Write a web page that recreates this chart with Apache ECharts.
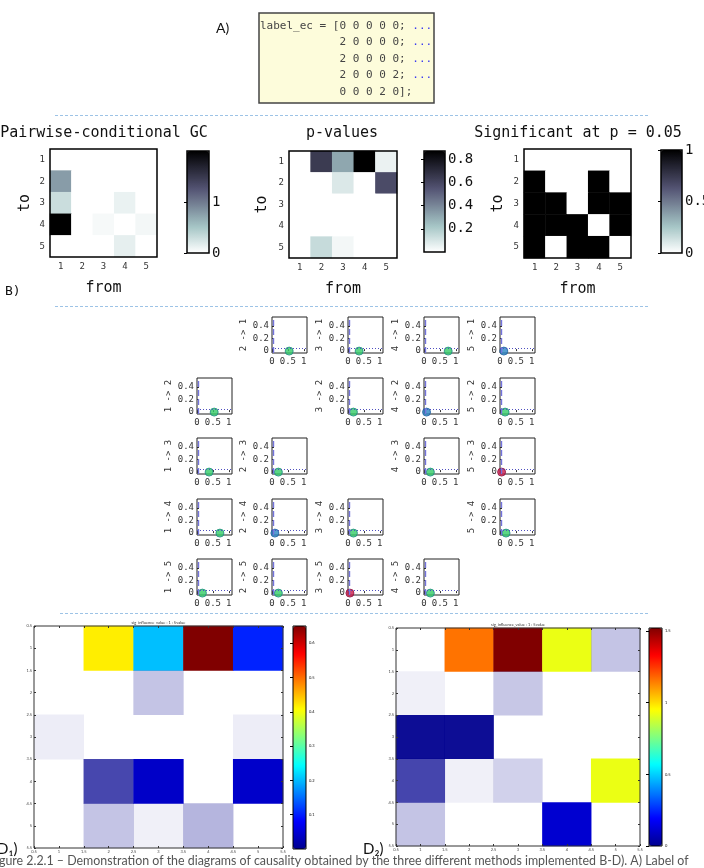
<!DOCTYPE html>
<html>
<head>
<meta charset="utf-8">
<script src="https://cdn.jsdelivr.net/npm/echarts@6/dist/echarts.min.js"></script>
<style>
  html, body { margin: 0; padding: 0; background: #fff; }
  #chart { width: 704px; height: 868px; }
</style>
</head>
<body>
<div id="chart"></div>
<script>
// ---------- data ----------
const nodes = ['1', '2', '3', '4', '5'];

// A) expected connections
const labelRows = [
  [0, 0, 0, 0, 0],
  [2, 0, 0, 0, 0],
  [2, 0, 0, 0, 0],
  [2, 0, 0, 0, 2],
  [0, 0, 0, 2, 0]
];

// B) rows = "to", columns = "from"
const gcValues = [
  [0, 0, 0, 0, 0],
  [0.78, 0, 0, 0, 0],
  [0.3, 0, 0, 0.12, 0],
  [2.0, 0, 0.05, 0, 0.07],
  [0, 0, 0, 0.14, 0]
];
const pValues = [
  [0, 0.64, 0.31, 0.87, 0.05],
  [0, 0, 0.09, 0, 0.58],
  [0, 0, 0, 0, 0],
  [0, 0, 0, 0, 0],
  [0, 0.14, 0.03, 0, 0]
];
const sigValues = [
  [0, 0, 0, 0, 0],
  [1, 0, 0, 1, 0],
  [1, 1, 0, 1, 1],
  [1, 1, 1, 0, 1],
  [1, 0, 1, 1, 0]
];
const gcRange = [0, 2.0], gcTicks = [0, 1];
const pRange = [0, 0.87], pTicks = [0.2, 0.4, 0.6, 0.8];
const sigRange = [0, 1], sigTicks = [0, 0.5, 1];
const alphaLevel = 0.05;

// C) one small plot per directed pair
const scatFrom = [2, 3, 4, 5, 1, 3, 4, 5, 1, 2, 4, 5, 1, 2, 3, 5, 1, 2, 3, 4];
const scatTo   = [1, 1, 1, 1, 2, 2, 2, 2, 3, 3, 3, 3, 4, 4, 4, 4, 5, 5, 5, 5];
const scatX    = [0.54, 0.35, 0.76, 0.12, 0.54, 0.17, 0.08, 0.16, 0.38, 0.2, 0.2, 0.05,
                  0.72, 0.09, 0.17, 0.19, 0.17, 0.2, 0.06, 0.2];
const scatY    = [0, 0, 0, 0, 0, 0, 0, 0, 0, 0, 0, 0, 0, 0, 0, 0, 0, 0, 0, 0];
const scatKind = ['g', 'g', 'g', 'b', 'g', 'g', 'b', 'g', 'g', 'g', 'g', 'r',
                  'g', 'b', 'g', 'g', 'g', 'g', 'r', 'g'];
const scatXTicks = [0, 0.5, 1];
const scatYTicks = [0, 0.2, 0.4];

// D) influence maps (null = empty cell), alpha = cell weight
const d1Values = [
  [null, 0.417, 0.203, 0.65, 0.103],
  [null, null, 0, null, null],
  [0, null, null, null, 0],
  [null, 0, 0.041, null, 0.043],
  [null, 0, 0, 0, null]
];
const d1Alpha = [
  [1, 1, 1, 1, 1],
  [1, 1, 0.23, 1, 1],
  [0.07, 1, 1, 1, 0.07],
  [1, 0.72, 1, 1, 1],
  [1, 0.23, 0.06, 0.29, 1]
];
const d2Values = [
  [null, 1.16, 1.52, 0.92, 0],
  [0, null, 0, null, null],
  [0, 0, null, null, null],
  [0, 0, 0, null, 0.92],
  [0, null, null, 0.11, null]
];
const d2Alpha = [
  [1, 1, 1, 1, 0.23],
  [0.06, 1, 0.22, 1, 1],
  [0.95, 0.95, 1, 1, 1],
  [0.73, 0.06, 0.18, 1, 1],
  [0.23, 1, 1, 1, 1]
];
const d1Range = [0, 0.65], d1Ticks = [0.1, 0.2, 0.3, 0.4, 0.5, 0.6];
const d2Range = [0, 1.52], d2Ticks = [0, 0.5, 1, 1.5];

// ---------- styles ----------
const MONO = '"DejaVu Sans Mono", monospace';
const SANS = 'Lato, "DejaVu Sans", sans-serif';
const boneRev = ['#ffffff', '#d3e3e3', '#a7c7c7', '#8ba1ab', '#707a8f', '#545474', '#38384d', '#1c1c27', '#000000'];
const jet = ['#00008f', '#0000ff', '#0080ff', '#00ffff', '#80ff80', '#ffff00', '#ff8000', '#ff0000', '#800000'];
const kindStyle = {
  g: { color: '#33cc66', borderColor: '#1f8a86', borderWidth: 1 },
  b: { color: '#2a86c4', borderColor: '#1f5fa0', borderWidth: 1 },
  r: { color: '#cc1a4a', borderColor: '#8a1040', borderWidth: 1 }
};

const grids = [], xAxis = [], yAxis = [], series = [], visualMap = [], graphic = [];

function addGrid(box, extra) {
  grids.push(Object.assign({
    left: box[0], top: box[1], width: box[2], height: box[3],
    show: true, borderColor: '#000', borderWidth: 1, backgroundColor: 'transparent',
    containLabel: false, outerBoundsMode: 'none'
  }, extra || {}));
  return grids.length - 1;
}

function addText(x, y, text, font, color, align, extraStyle) {
  graphic.push({
    type: 'text', x: x, y: y, silent: true, z: 20,
    style: Object.assign({
      text: text, font: font, fill: color || '#111',
      align: align || 'left', textAlign: align || 'left',
      verticalAlign: 'middle', textVerticalAlign: 'middle'
    }, extraStyle || {})
  });
}

function addColorbar(box, range, ticks, colors, seriesIndex, fontSize, borderWidth) {
  visualMap.push({
    type: 'continuous', seriesIndex: seriesIndex, dimension: 2,
    min: range[0], max: range[1], inRange: { color: colors },
    show: true, calculable: false, orient: 'vertical', padding: 0,
    left: box[0], top: box[1], itemWidth: box[2], itemHeight: box[3], z: 4
  });
  const g = addGrid(box, { borderWidth: borderWidth, borderColor: '#000', z: 6 });
  xAxis.push({ gridIndex: g, type: 'value', show: false, min: 0, max: 1 });
  yAxis.push({
    gridIndex: g, type: 'value', min: range[0], max: range[1], position: 'right', z: 7,
    axisLine: { show: false }, splitLine: { show: false },
    axisTick: { show: true, inside: true, length: 3, customValues: ticks, lineStyle: { color: '#000' } },
    axisLabel: {
      customValues: ticks, formatter: v => String(v), margin: 3,
      fontFamily: fontSize > 6 ? MONO : SANS, fontSize: fontSize, color: '#111'
    }
  });
}

// ---------- B) matrix panels ----------
const matrixPanels = [
  { title: 'Pairwise-conditional GC', titleX: 104, values: gcValues, range: gcRange, ticks: gcTicks,
    box: [50, 149, 107, 108], bar: [187, 151, 22, 102], toGap: 17 },
  { title: 'p-values', titleX: 342, values: pValues, range: pRange, ticks: pTicks,
    box: [289, 151, 108, 107], bar: [424, 151, 21, 101], toGap: 19 },
  { title: 'Significant at p = 0.05', titleX: 578, values: sigValues, range: sigRange, ticks: sigTicks,
    box: [524, 149, 107, 109], bar: [661, 150, 21, 103], toGap: 18 }
];

matrixPanels.forEach(p => {
  const g = addGrid(p.box, { borderWidth: 1.5, z: 3 });
  const tickStyle = { inside: true, alignWithLabel: true, length: 3, lineStyle: { color: '#000' } };
  const labelStyle = { fontFamily: MONO, fontSize: 9, color: '#333', margin: 5 };
  const nameStyle = { fontFamily: MONO, fontSize: 15, color: '#111' };
  const xi = xAxis.length;
  xAxis.push({
    gridIndex: g, type: 'category', data: nodes, position: 'bottom', z: 3,
    name: 'from', nameLocation: 'middle', nameGap: 24, nameTextStyle: nameStyle,
    axisLine: { show: false }, splitLine: { show: false }, axisTick: tickStyle, axisLabel: labelStyle
  });
  xAxis.push({
    gridIndex: g, type: 'category', data: nodes, position: 'top', z: 3,
    axisLine: { show: false }, splitLine: { show: false }, axisTick: tickStyle, axisLabel: { show: false }
  });
  const yi = yAxis.length;
  yAxis.push({
    gridIndex: g, type: 'category', data: nodes, inverse: true, position: 'left', z: 3,
    name: 'to', nameLocation: 'middle', nameRotate: 90, nameGap: p.toGap, nameTextStyle: nameStyle,
    axisLine: { show: false }, splitLine: { show: false }, axisTick: tickStyle, axisLabel: labelStyle
  });
  yAxis.push({
    gridIndex: g, type: 'category', data: nodes, inverse: true, position: 'right', z: 3,
    axisLine: { show: false }, splitLine: { show: false }, axisTick: tickStyle, axisLabel: { show: false }
  });
  const data = [];
  p.values.forEach((row, r) => row.forEach((v, c) => data.push([c, r, v])));
  const si = series.length;
  series.push({
    type: 'heatmap', xAxisIndex: xi, yAxisIndex: yi, data: data,
    emphasis: { disabled: true }, silent: true
  });
  addColorbar(p.bar, p.range, p.ticks, boneRev, si, 14, 1.5);
  addText(p.titleX, 133, p.title, '15px ' + MONO, '#111', 'center');
});

// ---------- C) pairwise small plots ----------
const colLeft = [197, 272, 348, 424, 500];
const rowTop = [317, 378, 438, 499, 559];

scatTo.forEach((to, i) => {
  const from = scatFrom[i];
  const g = addGrid([colLeft[from - 1], rowTop[to - 1], 35, 36], { borderColor: '#222', borderWidth: 1, z: 3 });
  const small = { fontFamily: MONO, fontSize: 9, color: '#333' };
  const xi = xAxis.length;
  xAxis.push({
    gridIndex: g, type: 'value', min: 0, max: 1.1,
    axisLine: { show: false }, splitLine: { show: false },
    axisTick: { inside: true, length: 2, customValues: scatXTicks, lineStyle: { color: '#333' } },
    axisLabel: Object.assign({ customValues: scatXTicks, formatter: v => String(v), margin: 4 }, small)
  });
  const yi = yAxis.length;
  yAxis.push({
    gridIndex: g, type: 'value', min: -0.03, max: 0.54,
    name: from + ' -> ' + to, nameLocation: 'middle', nameRotate: 90, nameGap: 24, nameTextStyle: small,
    axisLine: { show: false }, splitLine: { show: false },
    axisTick: { inside: true, length: 2, customValues: scatYTicks, lineStyle: { color: '#333' } },
    axisLabel: Object.assign({ customValues: scatYTicks, formatter: v => String(v), margin: 3 }, small)
  });
  series.push({
    type: 'scatter', xAxisIndex: xi, yAxisIndex: yi, silent: true,
    data: [[scatX[i], scatY[i]]], symbolSize: 8, itemStyle: kindStyle[scatKind[i]], z: 4,
    markLine: {
      silent: true, symbol: ['none', 'none'], label: { show: false }, animation: false,
      data: [
        { xAxis: alphaLevel, lineStyle: { color: '#7474dc', type: [6, 3], width: 1.4 } },
        { yAxis: alphaLevel, lineStyle: { color: '#5050c0', type: [1, 2], width: 1 } }
      ]
    }
  });
});

// ---------- D) jet influence maps ----------
const jetPanels = [
  { values: d1Values, alpha: d1Alpha, range: d1Range, ticks: d1Ticks,
    box: [34, 626, 249, 222], bar: [293, 626, 13, 223], title: 'sig_influence_value : 1 : 5value' },
  { values: d2Values, alpha: d2Alpha, range: d2Range, ticks: d2Ticks,
    box: [396, 628, 244, 218], bar: [649, 628, 13, 218], title: 'sig_influence_value : 1 : 5value' }
];

jetPanels.forEach(p => {
  const g = addGrid(p.box, { show: false });
  const xi = xAxis.length;
  xAxis.push({ gridIndex: g, type: 'category', data: nodes, show: false });
  const yi = yAxis.length;
  yAxis.push({ gridIndex: g, type: 'category', data: nodes, inverse: true, show: false });
  const data = [];
  p.values.forEach((row, r) => row.forEach((v, c) => {
    if (v !== null) data.push({ value: [c, r, v], itemStyle: { opacity: p.alpha[r][c] } });
  }));
  const si = series.length;
  series.push({ type: 'heatmap', xAxisIndex: xi, yAxisIndex: yi, data: data, emphasis: { disabled: true }, silent: true });

  // frame with half-step ticks
  const f = addGrid(p.box, { borderColor: '#333', borderWidth: 1, z: 3 });
  const tiny = { fontFamily: SANS, fontSize: 4, color: '#444', margin: 2, formatter: v => String(v) };
  const tick = { inside: true, length: 2, lineStyle: { color: '#333' } };
  const base = { type: 'value', min: 0.5, max: 5.5, interval: 0.5, z: 3,
    axisLine: { show: false }, splitLine: { show: false }, axisTick: tick };
  xAxis.push(Object.assign({ gridIndex: f, position: 'bottom', axisLabel: tiny }, base));
  xAxis.push(Object.assign({ gridIndex: f, position: 'top', axisLabel: { show: false } }, base));
  yAxis.push(Object.assign({ gridIndex: f, position: 'left', inverse: true, axisLabel: tiny }, base));
  yAxis.push(Object.assign({ gridIndex: f, position: 'right', inverse: true, axisLabel: { show: false } }, base));

  addColorbar(p.bar, p.range, p.ticks, jet, si, 4, 1);
  addText(p.box[0] + p.box[2] / 2, p.box[1] - 3, p.title, '4px ' + SANS, '#333', 'center');
});

// ---------- A) code box, separators, labels ----------
graphic.push({
  type: 'rect', silent: true, z: 1,
  shape: { x: 259, y: 13, width: 175, height: 90 },
  style: { fill: '#fdfcdb', stroke: '#444', lineWidth: 1.5 }
});
labelRows.forEach((row, i) => {
  const last = i === labelRows.length - 1;
  const prefix = i === 0 ? 'label_ec = [' : '            ';
  const line = prefix + row.join(' ') + (last ? '];' : '; {dots|...}');
  addText(260, 26 + i * 16.5, line, '11px ' + MONO, '#444', 'left', {
    rich: { dots: { fill: '#3a3af0', fontSize: 11, fontFamily: MONO } }
  });
});

[[55, 115.5, 650], [55, 306.5, 648], [60, 613.5, 650]].forEach(s => {
  graphic.push({
    type: 'line', silent: true, z: 1,
    shape: { x1: s[0], y1: s[1], x2: s[2], y2: s[1] },
    style: { stroke: '#9dc3e6', lineWidth: 1, lineDash: [3, 2] }
  });
});

addText(216, 28, 'A)', '14px ' + SANS, '#111');
addText(5, 292, 'B)', '13px ' + MONO, '#111');
addText(-3, 849, 'D\u2081)', '15px ' + SANS, '#111');
addText(363, 849, 'D\u2082)', '15px ' + SANS, '#111');
addText(-11, 861, 'Figure 2.2.1 \u2013 Demonstration of the diagrams of causality obtained by the three different methods implemented B-D). A) Label of',
  '12.4px ' + SANS, '#555');

const chart = echarts.init(document.getElementById('chart'));
chart.setOption({
  animation: false,
  backgroundColor: '#fff',
  grid: grids, xAxis: xAxis, yAxis: yAxis,
  series: series, visualMap: visualMap, graphic: graphic
});
</script>
</body>
</html>
